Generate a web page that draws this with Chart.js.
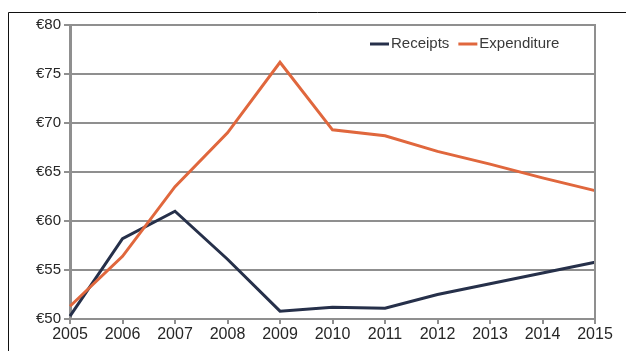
<!DOCTYPE html>
<html>
<head>
<meta charset="utf-8">
<script src="https://cdn.jsdelivr.net/npm/chart.js@4/dist/chart.umd.min.js"></script>
<style>
  html, body { margin: 0; padding: 0; background: #ffffff; }
  canvas { display: block; }
</style>
</head>
<body>
<canvas id="chart" width="626" height="351"></canvas>
<script>
// Years on the horizontal axis
const years = ['2005', '2006', '2007', '2008', '2009', '2010', '2011', '2012', '2013', '2014', '2015'];

// Series values (euro)
const receipts    = [50.3, 58.2, 61.0, 56.1, 50.8, 51.2, 51.1, 52.5, 53.6, 54.7, 55.8];
const expenditure = [51.3, 56.4, 63.5, 69.0, 76.2, 69.3, 68.7, 67.1, 65.8, 64.4, 63.1];

// Value axis range
const yMin = 50;
const yMax = 80;
const yStep = 5;

const navy = '#26304a';
const orange = '#e0673d';
const gridGrey = '#8f8f8f';
const textColor = '#262626';

// Outer frame, right plot border and an inline legend inside the plot
const decorations = {
  id: 'decorations',
  beforeDraw(chart) {
    const ctx = chart.ctx;
    ctx.save();
    ctx.fillStyle = '#ffffff';
    ctx.fillRect(0, 0, chart.width, chart.height);
    ctx.strokeStyle = '#111111';
    ctx.lineWidth = 1;
    ctx.beginPath();
    ctx.moveTo(8.5, chart.height);
    ctx.lineTo(8.5, 12.5);
    ctx.lineTo(chart.width, 12.5);
    ctx.stroke();
    ctx.restore();
  },
  afterDraw(chart) {
    const ctx = chart.ctx;
    const area = chart.chartArea;
    ctx.save();
    ctx.strokeStyle = gridGrey;
    ctx.lineWidth = 2;
    ctx.beginPath();
    ctx.moveTo(area.right, area.top - 1);
    ctx.lineTo(area.right, area.bottom + 5);
    ctx.stroke();

    // legend
    ctx.font = '15px "Liberation Sans", Arial, sans-serif';
    ctx.textBaseline = 'middle';
    let x = 370;
    const y = 44;
    chart.data.datasets.forEach((ds) => {
      ctx.strokeStyle = ds.borderColor;
      ctx.lineWidth = 3;
      ctx.beginPath();
      ctx.moveTo(x, y);
      ctx.lineTo(x + 19, y);
      ctx.stroke();
      ctx.fillStyle = '#3a3a3a';
      ctx.fillText(ds.label, x + 21, y);
      x += 21 + ctx.measureText(ds.label).width + 9;
    });
    ctx.restore();
  }
};

new Chart(document.getElementById('chart'), {
  type: 'line',
  data: {
    labels: years,
    datasets: [
      {
        label: 'Receipts',
        data: receipts,
        borderColor: navy,
        backgroundColor: navy,
        borderWidth: 3,
        pointRadius: 0,
        tension: 0,
        order: 1
      },
      {
        label: 'Expenditure',
        data: expenditure,
        borderColor: orange,
        backgroundColor: orange,
        borderWidth: 3,
        pointRadius: 0,
        tension: 0,
        order: 0
      }
    ]
  },
  options: {
    responsive: false,
    animation: false,
    devicePixelRatio: 1,
    layout: { padding: { left: 0, right: 31, top: 25, bottom: 0 } },
    plugins: {
      legend: { display: false },
      tooltip: { enabled: false }
    },
    scales: {
      x: {
        offset: false,
        grid: {
          drawOnChartArea: false,
          drawTicks: true,
          tickLength: 5,
          color: gridGrey,
          lineWidth: 2
        },
        border: { display: true, color: gridGrey, width: 2 },
        ticks: {
          autoSkip: false,
          maxRotation: 0,
          padding: 1,
          color: textColor,
          font: { family: '"Liberation Sans", Arial, sans-serif', size: 16 }
        },
        afterFit(scale) { scale.height = 32; }
      },
      y: {
        min: yMin,
        max: yMax,
        grid: {
          color: gridGrey,
          lineWidth: 2,
          tickLength: 6
        },
        border: { display: true, color: gridGrey, width: 3 },
        ticks: {
          stepSize: yStep,
          padding: 3,
          color: textColor,
          font: { family: '"Liberation Sans", Arial, sans-serif', size: 15 },
          callback: (v) => '€' + v
        },
        afterFit(scale) { scale.width = 70; }
      }
    }
  },
  plugins: [decorations]
});
</script>
</body>
</html>
